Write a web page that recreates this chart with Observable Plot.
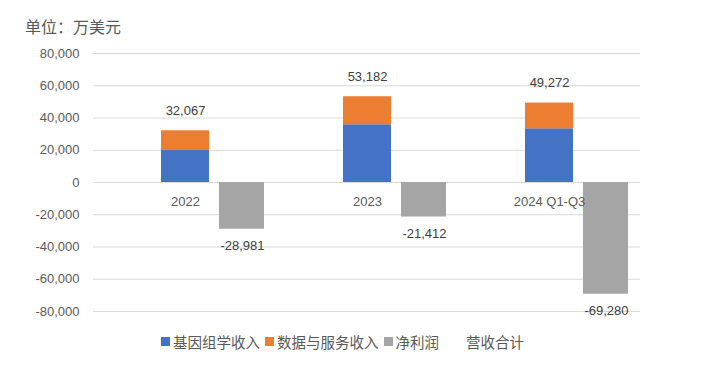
<!DOCTYPE html>
<html><head><meta charset="utf-8">
<script src="https://cdn.jsdelivr.net/npm/d3@7"></script>
<script src="https://cdn.jsdelivr.net/npm/@observablehq/plot@0.6"></script>
<style>
body{margin:0;background:#fff;}
#wrap{position:relative;width:708px;height:366px;font-family:"Noto Sans CJK SC","Noto Sans",sans-serif;}
#title{position:absolute;left:25px;top:14px;font-size:16px;color:#595959;}
#legend{position:absolute;left:161px;top:331px;font-size:14.5px;color:#595959;display:flex;align-items:center;white-space:nowrap;}
#legend span.sw{display:inline-block;width:9px;height:9px;margin-right:3px;}
#legend span.item{display:inline-flex;align-items:center;margin-right:5px;}
</style></head>
<body><div id="wrap"><div id="title">单位：万美元</div><div id="legend"></div></div>
<script>
const categories = ["2022", "2023", "2024 Q1-Q3"];
const seriesNames = ["基因组学收入", "数据与服务收入", "净利润", "营收合计"];
const genomics = [19800, 35800, 33300];
const dataServices = [12267, 17382, 15972];
const netProfit = [-28981, -21412, -69280];
const totals = [32067, 53182, 49272];
const yTicks = [-80000, -60000, -40000, -20000, 0, 20000, 40000, 60000, 80000];
const colors = ["#4472C4", "#ED7D31", "#A5A5A5", "none"];

const stacked = categories.flatMap((c, i) => [
  {cat: c, series: seriesNames[0], value: genomics[i]},
  {cat: c, series: seriesNames[1], value: dataServices[i]}
]);
const profit = categories.map((c, i) => ({cat: c, value: netProfit[i]}));
const tot = categories.map((c, i) => ({cat: c, value: totals[i]}));
const fmt = d => d.toLocaleString("en-US");

const chart = Plot.plot({
  width: 708, height: 366,
  marginTop: 53, marginBottom: 55, marginLeft: 93, marginRight: 68,
  style: {fontFamily: "'Liberation Sans', Arial, sans-serif", fontSize: "13px", background: "transparent"},
  x: {domain: categories, padding: 0, axis: null},
  y: {domain: [-80000, 80000], ticks: yTicks, tickFormat: fmt, tickSize: 0, tickPadding: 14, label: null},
  color: {domain: seriesNames, range: colors},
  marks: [
    Plot.ruleY(yTicks, {stroke: "#d9d9d9", strokeWidth: 1}),
    Plot.axisY({ticks: yTicks, tickFormat: fmt, tickSize: 0, tickPadding: 14, label: null, color: "#595959", fontSize: 13}),
    Plot.barY(stacked, {x: "cat", y: "value", fill: "series", insetLeft: 67, insetRight: 67, order: seriesNames}),
    Plot.barY(profit, {x: "cat", y: "value", fill: () => seriesNames[2], insetLeft: 125, insetRight: 12}),
    Plot.text(categories, {x: d => d, y: () => 0, dy: 19, text: d => d, fill: "#595959", fontSize: 13}),
    Plot.text(tot, {x: "cat", y: "value", dy: -20, text: d => fmt(d.value), fill: "#404040", fontSize: 13}),
    Plot.text(profit, {x: "cat", y: "value", dx: 57, dy: 17, text: d => fmt(d.value), fill: "#404040", fontSize: 13})
  ]
});
document.getElementById("wrap").prepend(chart);
chart.style.position = "absolute"; chart.style.left = "0"; chart.style.top = "0";

const lg = document.getElementById("legend");
seriesNames.forEach((n, i) => {
  const it = document.createElement("span"); it.className = "item";
  const sw = document.createElement("span"); sw.className = "sw";
  sw.style.background = colors[i] === "none" ? "transparent" : colors[i];
  if (colors[i] === "none") sw.style.marginLeft = "10px";
  it.appendChild(sw);
  it.appendChild(document.createTextNode(n));
  lg.appendChild(it);
});
</script></body></html>
